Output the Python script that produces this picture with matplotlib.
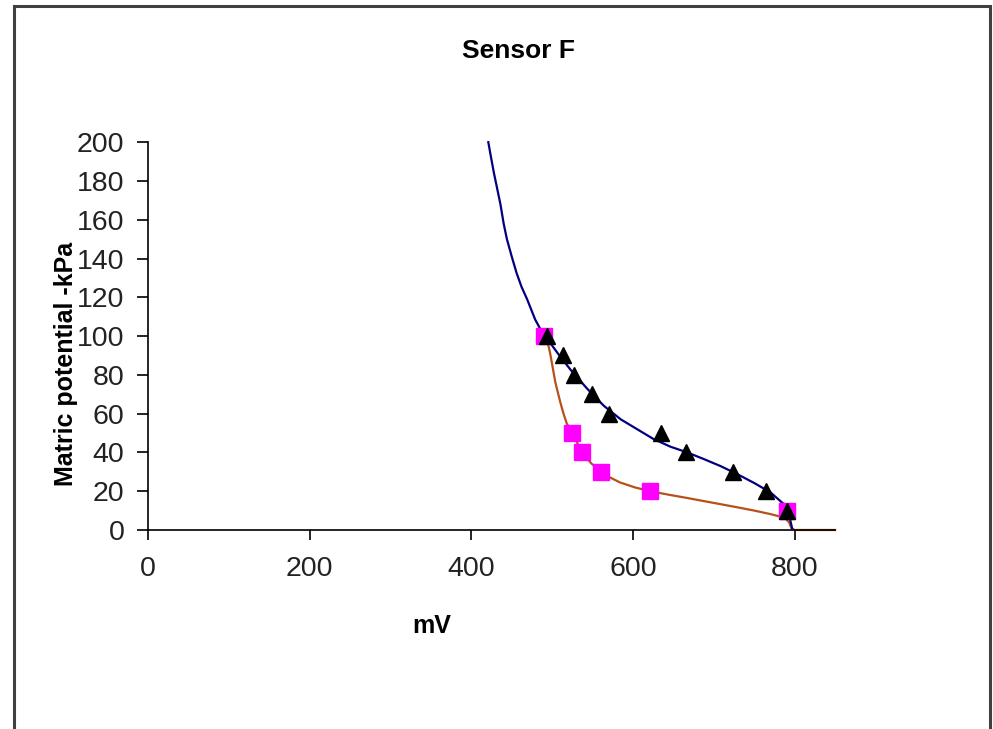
import matplotlib.pyplot as plt
from matplotlib.patches import Rectangle

plt.rcParams['font.family'] = ['Liberation Sans', 'DejaVu Sans']

tri_mv = [494, 514, 527, 549, 570, 635, 666, 724, 764, 791]
tri_kpa = [100, 90, 80, 70, 60, 50, 40, 30, 20, 10]

sq_mv = [490, 525, 537, 560, 621, 791]
sq_kpa = [100, 50, 40, 30, 20, 10]

# fitted curves
blue_mv = [421, 424, 428, 432, 436, 440, 444, 450, 456, 462, 469, 479, 488, 494,
           508, 523, 543, 564, 585, 605, 625, 646, 667, 688, 708, 729, 750, 770,
           791, 797]
blue_kpa = [200, 193, 184, 176, 168, 158, 150, 141, 132.5, 125.5, 119, 108.5, 101.6, 98.5,
            90.5, 82.5, 73, 64, 57, 52, 47, 43, 40, 36.5, 33, 28.8, 24.2, 19.4,
            11.7, 0.5]

brown_mv = [493, 496, 498, 501, 504, 507, 510, 514, 518, 525, 531, 537, 548, 560,
            572, 584, 602, 621, 644, 667, 698, 729, 750, 770, 782, 789, 793, 796,
            800, 850]
brown_kpa = [99, 94, 90, 83, 76, 71, 66, 60, 55, 50, 45, 40, 34.5, 30,
             27, 24.5, 22, 20, 18.2, 16.5, 14.1, 11.7, 10, 8.2, 6.9, 5.7, 4, 0.9,
             0, 0]

fig = plt.figure(figsize=(9.93, 7.29), dpi=100)
ax = fig.add_axes([0.149, 0.273, 0.692, 0.532])

# outer chart frame
fig.patches.append(Rectangle((14 / 993, -0.05), (990 - 14) / 993, 1.05 - 6 / 729,
                             transform=fig.transFigure, fill=False,
                             edgecolor='#404040', linewidth=2.2, clip_on=False))

ax.plot(brown_mv, brown_kpa, color='#B8501A', linewidth=1.6, zorder=2, clip_on=False)
ax.plot(blue_mv, blue_kpa, color='#000080', linewidth=1.6, zorder=3, clip_on=False)
ax.plot(sq_mv, sq_kpa, linestyle='none', marker='s', markersize=11.5,
        color='#FF00FF', zorder=4, clip_on=False)
ax.plot(tri_mv, tri_kpa, linestyle='none', marker='^', markersize=11.5,
        color='black', zorder=5, clip_on=False)

ax.set_xlim(0, 850)
ax.set_ylim(0, 200)
ax.set_xticks([0, 200, 400, 600, 800])
ax.set_yticks(range(0, 201, 20))

for s in ['top', 'right']:
    ax.spines[s].set_visible(False)
for s in ['left', 'bottom']:
    ax.spines[s].set_linewidth(1.2)
    ax.spines[s].set_color('black')

ax.tick_params(axis='x', direction='out', length=7, width=1.2, pad=12,
               labelsize=20.5, labelcolor='#222222')
ax.tick_params(axis='y', direction='out', length=8, width=1.2, pad=9,
               labelsize=20.5, labelcolor='#222222')

fig.text(518 / 993, 1 - 58.5 / 729, 'Sensor F', ha='center', va='baseline',
         fontsize=19, fontweight='bold')
fig.text(432 / 993, 1 - 633 / 729, 'mV', ha='center', va='baseline',
         fontsize=18, fontweight='bold')
fig.text(66 / 993, 1 - 364 / 729, 'Matric potential -kPa', ha='center',
         va='center', rotation=90, fontsize=18, fontweight='bold')

fig.savefig('out.png', dpi=100)
